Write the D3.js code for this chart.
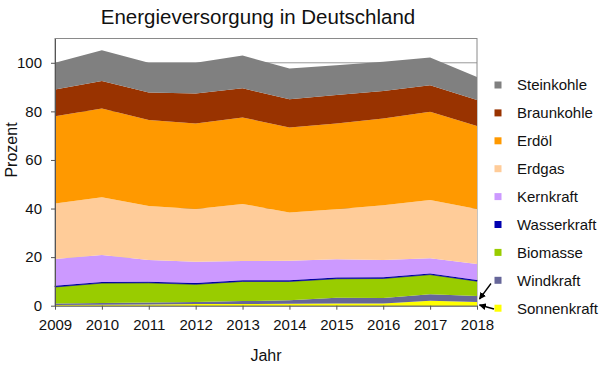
<!DOCTYPE html>
<html>
<head>
<meta charset="utf-8">
<script src="https://cdn.jsdelivr.net/npm/d3@7"></script>
<style>
  html, body { margin: 0; padding: 0; background: #fff; }
  svg { display: block; font-family: "Liberation Sans", Arial, sans-serif; }
</style>
</head>
<body>
<svg id="chart" width="611" height="369"></svg>
<script>
const years = [2009, 2010, 2011, 2012, 2013, 2014, 2015, 2016, 2017, 2018];
const sonnenkraft = [0.3, 0.4, 0.5, 0.7, 0.7, 0.8, 0.9, 0.9, 2.0, 1.5];
const windkraft   = [0.6, 0.7, 0.8, 0.8, 1.2, 1.4, 2.4, 2.3, 2.7, 2.5];
const biomasse    = [6.8, 8.2, 8.1, 7.3, 8.1, 7.8, 7.8, 8.0, 8.1, 6.1];
const wasserkraft = [0.5, 0.5, 0.5, 0.5, 0.5, 0.5, 0.5, 0.5, 0.5, 0.5];
const kernkraft   = [11.0, 11.1, 8.9, 8.8, 7.9, 8.0, 7.5, 7.1, 6.2, 6.6];
const erdgas      = [22.9, 23.7, 22.2, 21.7, 23.5, 19.9, 20.6, 22.6, 24.0, 22.6];
const erdoel      = [35.9, 36.6, 35.4, 35.2, 35.6, 35.0, 35.3, 35.7, 36.3, 34.2];
const braunkohle  = [11.0, 11.3, 11.4, 12.4, 12.0, 11.6, 11.7, 11.3, 11.0, 10.7];
const steinkohle  = [11.0, 12.7, 12.2, 12.6, 13.5, 12.7, 12.3, 12.0, 11.4, 9.5];

const yTicks = [0, 20, 40, 60, 80, 100];
const title = "Energieversorgung in Deutschland";
const xTitle = "Jahr";
const yTitle = "Prozent";

// series bottom-to-top
const seriesNames = ["Sonnenkraft", "Windkraft", "Biomasse", "Wasserkraft", "Kernkraft", "Erdgas", "Erdöl", "Braunkohle", "Steinkohle"];
const seriesValues = [sonnenkraft, windkraft, biomasse, wasserkraft, kernkraft, erdgas, erdoel, braunkohle, steinkohle];
const seriesColors = ["#ffff00", "#666699", "#99cc00", "#0000b0", "#cc99ff", "#ffcc99", "#ff9900", "#993300", "#808080"];

const table = years.map((y, i) => {
  const row = { year: y };
  seriesNames.forEach((n, k) => row[n] = seriesValues[k][i]);
  return row;
});

const svg = d3.select("#chart");
const plot = { left: 55, right: 477, top: 38.5, bottom: 305.7 };

const x = d3.scaleLinear().domain([2009, 2018]).range([plot.left, plot.right]);
const y = d3.scaleLinear().domain([0, 110]).range([plot.bottom, plot.top]);

// gridlines
svg.append("g").selectAll("line").data(yTicks.filter(t => t > 0)).join("line")
  .attr("x1", plot.left).attr("x2", plot.right)
  .attr("y1", d => y(d)).attr("y2", d => y(d))
  .attr("stroke", "#9a9a9a").attr("stroke-width", 1);

// plot border
svg.append("rect")
  .attr("x", plot.left).attr("y", plot.top)
  .attr("width", plot.right - plot.left).attr("height", plot.bottom - plot.top)
  .attr("fill", "none").attr("stroke", "#8a8a8a").attr("stroke-width", 1);

const stack = d3.stack().keys(seriesNames);
const stacked = stack(table);

const area = d3.area()
  .x(d => x(d.data.year))
  .y0(d => y(d[0]))
  .y1(d => y(d[1]));

svg.append("g").selectAll("path").data(stacked).join("path")
  .attr("d", area)
  .attr("fill", (d, i) => seriesColors[i])
  .attr("stroke", (d, i) => seriesNames[i] === "Wasserkraft" ? "#000090" : "none")
  .attr("stroke-width", 0.6);

// axes
const xAxis = d3.axisBottom(x).tickValues(years).tickFormat(d3.format("d")).tickSize(4).tickSizeOuter(0);
const gx = svg.append("g").attr("transform", `translate(0,${plot.bottom})`).call(xAxis);
gx.select(".domain").attr("stroke", "#555");
gx.selectAll(".tick line").attr("stroke", "#555");
gx.selectAll("text").attr("font-size", 15).attr("fill", "#111").attr("dy", "1.15em");

const yAxis = d3.axisLeft(y).tickValues(yTicks).tickSize(4).tickSizeOuter(0).tickPadding(9);
const gy = svg.append("g").attr("transform", `translate(${plot.left},0)`).call(yAxis);
gy.select(".domain").attr("stroke", "#555");
gy.selectAll(".tick line").attr("stroke", "#555");
gy.selectAll("text").attr("font-size", 15).attr("fill", "#111");

// titles
svg.append("text").attr("x", 258).attr("y", 24).attr("text-anchor", "middle")
  .attr("font-size", 20.5).attr("fill", "#111").text(title);
svg.append("text").attr("x", 266).attr("y", 361).attr("text-anchor", "middle")
  .attr("font-size", 16).attr("fill", "#111").text(xTitle);
svg.append("text").attr("transform", "translate(17,150) rotate(-90)").attr("text-anchor", "middle")
  .attr("font-size", 16).attr("fill", "#111").text(yTitle);

// legend (top-to-bottom)
const legendOrder = seriesNames.slice().reverse();
const lg = svg.append("g");
legendOrder.forEach((n, i) => {
  const cy = 85 + i * 27.9;
  const idx = seriesNames.indexOf(n);
  lg.append("rect").attr("x", 494.5).attr("y", cy - 3.5).attr("width", 7).attr("height", 7)
    .attr("fill", seriesColors[idx]);
  lg.append("text").attr("x", 517).attr("y", cy).attr("dy", "0.36em")
    .attr("font-size", 15).attr("fill", "#111").text(n);
});

// arrows
const defs = svg.append("defs");
defs.append("marker").attr("id", "ah").attr("viewBox", "0 0 10 10")
  .attr("refX", 9).attr("refY", 5).attr("markerWidth", 7).attr("markerHeight", 7)
  .attr("orient", "auto-start-reverse").attr("markerUnits", "userSpaceOnUse")
  .append("path").attr("d", "M0,0 L10,5 L0,10 z").attr("fill", "#000");
svg.append("line").attr("x1", 491).attr("y1", 283.5).attr("x2", 479.5).attr("y2", 299)
  .attr("stroke", "#000").attr("stroke-width", 1.3).attr("marker-end", "url(#ah)");
svg.append("line").attr("x1", 494).attr("y1", 309).attr("x2", 479.5).attr("y2", 305)
  .attr("stroke", "#000").attr("stroke-width", 1.3).attr("marker-end", "url(#ah)");
</script>
</body>
</html>
